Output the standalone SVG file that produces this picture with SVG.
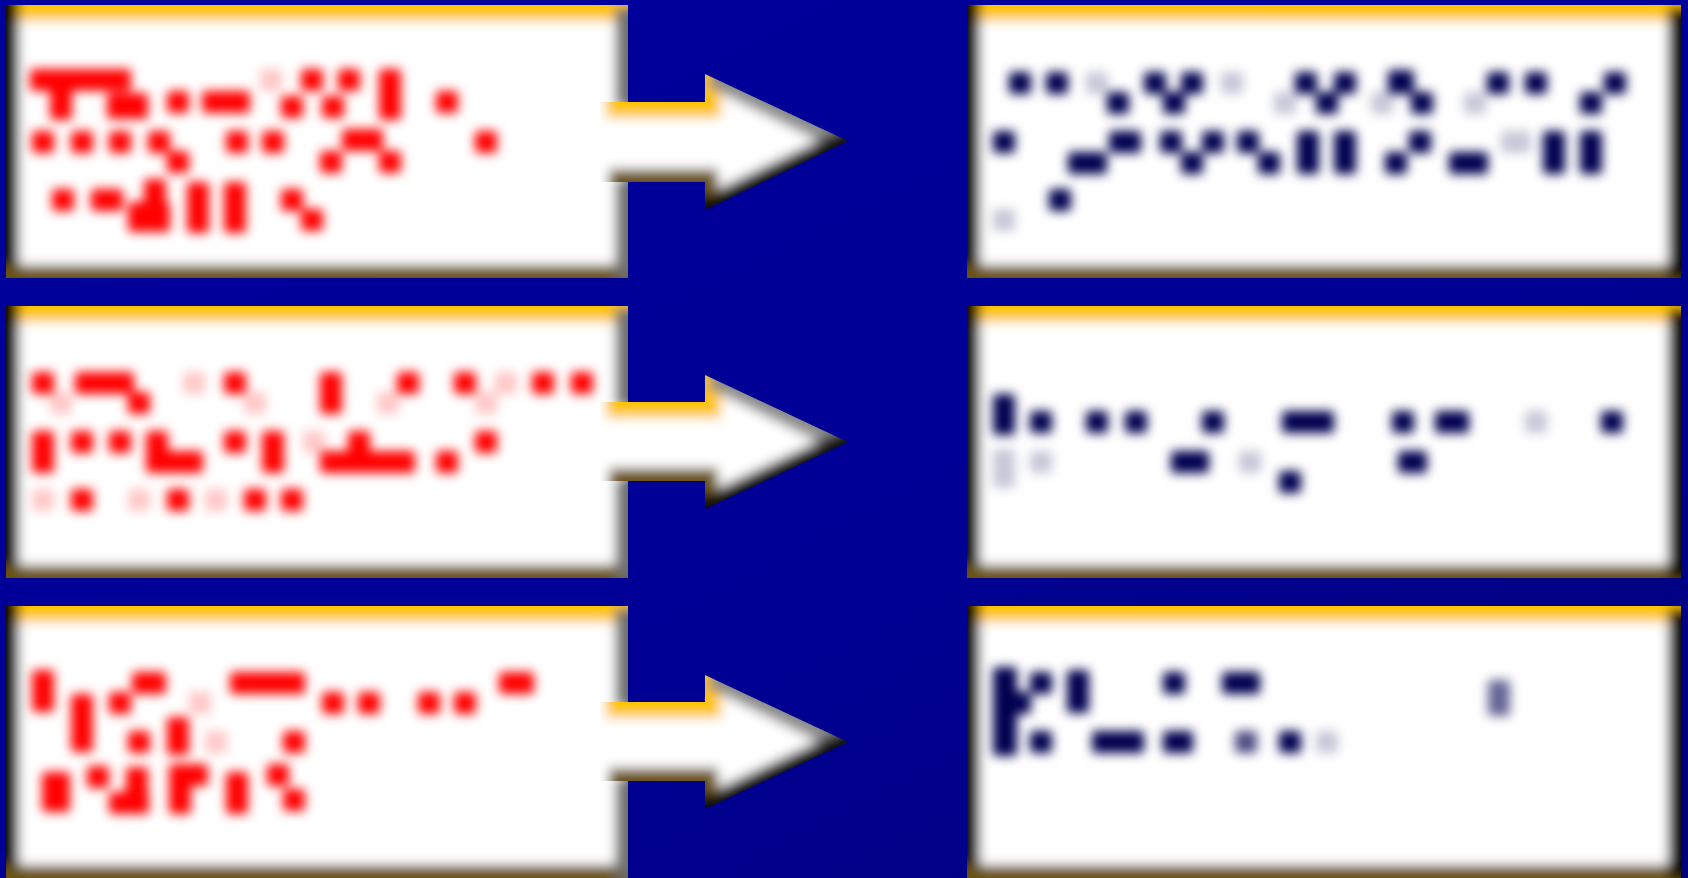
<svg xmlns="http://www.w3.org/2000/svg" width="1688" height="878" viewBox="0 0 1688 878">
<defs>
<linearGradient id="bg" x1="0" y1="0" x2="1" y2="1">
<stop offset="0" stop-color="#00009c"/><stop offset="0.55" stop-color="#000096"/><stop offset="1" stop-color="#00007a"/>
</linearGradient>
<filter id="edge" x="-5%" y="-10%" width="110%" height="120%"><feGaussianBlur stdDeviation="6"/></filter>
<filter id="ink" x="-10%" y="-20%" width="120%" height="140%"><feGaussianBlur stdDeviation="5.5"/></filter>
<clipPath id="cL1" clipPathUnits="userSpaceOnUse"><rect x="6" y="5" width="622" height="273"/></clipPath>
<clipPath id="cL2" clipPathUnits="userSpaceOnUse"><rect x="6" y="306" width="622" height="272"/></clipPath>
<clipPath id="cL3" clipPathUnits="userSpaceOnUse"><rect x="6" y="606" width="622" height="272"/></clipPath>
<clipPath id="cR1" clipPathUnits="userSpaceOnUse"><rect x="967" y="5" width="714" height="273"/></clipPath>
<clipPath id="cR2" clipPathUnits="userSpaceOnUse"><rect x="967" y="306" width="714" height="272"/></clipPath>
<clipPath id="cR3" clipPathUnits="userSpaceOnUse"><rect x="967" y="606" width="714" height="272"/></clipPath>
<clipPath id="cA1" clipPathUnits="userSpaceOnUse"><path d="M600,102 H705 V74 L848,141 L705,210 V182 H600 Z"/></clipPath>
<clipPath id="cA2" clipPathUnits="userSpaceOnUse"><path d="M600,402 H705 V375 L848,442 L705,509 V481 H600 Z"/></clipPath>
<clipPath id="cA3" clipPathUnits="userSpaceOnUse"><path d="M600,702 H705 V675 L848,742 L705,809 V781 H600 Z"/></clipPath>
<style>
.w{fill:#fff}
.e{fill:none;stroke-width:26;stroke-linecap:square}
.eg{stroke:#ffc400;stroke-width:32}
.ed{stroke:#6a5210}
.ek{stroke:#000}
.ea{stroke:#707070}
.ex{stroke:#8a8a8a}
.ey{stroke:#111}
.r rect{fill:#ff0000;stroke:#ff0000;stroke-width:6;stroke-linejoin:round}
.n rect{fill:#000050;stroke:#000050;stroke-width:6;stroke-linejoin:round}
.f{opacity:.22}
</style>
</defs>
<rect width="1688" height="878" fill="url(#bg)"/>

<g id="node-left-1">
<g clip-path="url(#cL1)"><g filter="url(#edge)">
<rect class="w" x="6" y="5" width="622" height="273"/>
<line class="e eg" x1="6" y1="5" x2="628" y2="5"/>
<line class="e ek" x1="6" y1="5" x2="6" y2="278"/>
<line class="e ed" x1="6" y1="278" x2="628" y2="278"/>
<line class="e ea" x1="628" y1="20" x2="628" y2="94"/>
<line class="e ea" x1="628" y1="192" x2="628" y2="266"/>
</g></g>
<g class="r" filter="url(#ink)">
<rect x="33" y="72" width="95" height="16"/><rect x="53" y="72" width="16" height="45"/><rect x="110" y="96" width="35" height="20"/>
<rect x="170" y="94" width="16" height="16"/><rect x="205" y="94" width="42" height="16"/>
<rect class="f" x="263" y="72" width="16" height="16"/><rect x="284" y="99" width="16" height="16"/><rect x="304" y="72" width="16" height="16"/><rect x="325" y="99" width="16" height="16"/><rect x="341" y="72" width="16" height="16"/><rect x="382" y="72" width="16" height="45"/><rect x="439" y="94" width="16" height="16"/>
<rect x="35" y="134" width="16" height="16"/><rect x="74" y="134" width="16" height="16"/><rect x="112" y="134" width="16" height="16"/><rect x="151" y="134" width="16" height="16"/><rect x="170" y="154" width="16" height="16"/>
<rect x="229" y="134" width="16" height="16"/><rect x="265" y="134" width="16" height="16"/>
<rect x="323" y="154" width="16" height="16"/><rect x="345" y="132" width="35" height="16"/><rect x="382" y="154" width="16" height="16"/><rect x="478" y="134" width="16" height="16"/>
<rect x="55" y="192" width="16" height="16"/><rect x="94" y="192" width="26" height="16"/><rect x="131" y="205" width="36" height="24"/><rect x="147" y="182" width="16" height="24"/>
<rect x="190" y="185" width="16" height="45"/><rect x="227" y="185" width="16" height="45"/><rect x="284" y="192" width="16" height="16"/><rect x="304" y="212" width="16" height="16"/>
</g>
</g>

<g id="node-left-2">
<g clip-path="url(#cL2)"><g filter="url(#edge)">
<rect class="w" x="6" y="306" width="622" height="272"/>
<line class="e eg" x1="6" y1="306" x2="628" y2="306"/>
<line class="e ek" x1="6" y1="306" x2="6" y2="578"/>
<line class="e ed" x1="6" y1="578" x2="628" y2="578"/>
<line class="e ea" x1="628" y1="321" x2="628" y2="394"/>
<line class="e ea" x1="628" y1="491" x2="628" y2="566"/>
</g></g>
<g class="r" filter="url(#ink)">
<rect x="35" y="375" width="16" height="16"/><rect class="f" x="53" y="395" width="16" height="16"/><rect x="78" y="375" width="53" height="16"/><rect x="131" y="395" width="16" height="16"/>
<rect class="f" x="186" y="375" width="16" height="16"/><rect x="227" y="375" width="16" height="16"/><rect class="f" x="247" y="395" width="16" height="16"/>
<rect x="323" y="375" width="16" height="36"/><rect class="f" x="380" y="395" width="16" height="16"/><rect x="400" y="375" width="16" height="16"/>
<rect x="457" y="375" width="16" height="16"/><rect class="f" x="478" y="395" width="16" height="16"/><rect class="f" x="498" y="375" width="16" height="16"/><rect x="535" y="375" width="16" height="16"/><rect x="574" y="375" width="16" height="16"/>
<rect x="35" y="434" width="16" height="36"/><rect x="74" y="434" width="16" height="16"/><rect x="112" y="434" width="16" height="16"/>
<rect x="149" y="434" width="16" height="36"/><rect x="149" y="454" width="51" height="16"/><rect x="227" y="434" width="16" height="16"/><rect x="265" y="434" width="16" height="36"/>
<rect class="f" x="306" y="434" width="16" height="16"/><rect x="323" y="454" width="89" height="16"/><rect x="351" y="434" width="16" height="36"/><rect x="439" y="454" width="16" height="16"/><rect x="478" y="434" width="16" height="16"/>
<rect class="f" x="35" y="492" width="16" height="16"/><rect x="74" y="492" width="16" height="16"/><rect class="f" x="131" y="492" width="16" height="16"/><rect x="170" y="492" width="16" height="16"/><rect class="f" x="208" y="492" width="16" height="16"/><rect x="247" y="492" width="16" height="16"/><rect x="284" y="492" width="16" height="16"/>
</g>
</g>

<g id="node-left-3">
<g clip-path="url(#cL3)"><g filter="url(#edge)">
<rect class="w" x="6" y="606" width="622" height="272"/>
<line class="e eg" x1="6" y1="606" x2="628" y2="606"/>
<line class="e ek" x1="6" y1="606" x2="6" y2="878"/>
<line class="e ed" x1="6" y1="878" x2="628" y2="878"/>
<line class="e ea" x1="628" y1="621" x2="628" y2="694"/>
<line class="e ea" x1="628" y1="791" x2="628" y2="866"/>
</g></g>
<g class="r" filter="url(#ink)">
<rect x="35" y="673" width="16" height="36"/><rect x="74" y="697" width="16" height="52"/><rect x="112" y="695" width="16" height="16"/><rect x="135" y="675" width="28" height="16"/><rect class="f" x="192" y="695" width="16" height="16"/>
<rect x="233" y="675" width="69" height="16"/><rect x="325" y="695" width="16" height="16"/><rect x="361" y="695" width="16" height="16"/><rect x="421" y="695" width="16" height="16"/><rect x="457" y="695" width="16" height="16"/><rect x="502" y="675" width="29" height="16"/>
<rect x="131" y="734" width="16" height="16"/><rect x="170" y="720" width="16" height="32"/><rect class="f" x="208" y="734" width="16" height="16"/><rect x="286" y="734" width="16" height="16"/>
<rect x="45" y="775" width="22" height="34"/><rect x="90" y="769" width="16" height="16"/><rect x="129" y="770" width="16" height="40"/><rect x="112" y="795" width="34" height="16"/>
<rect x="172" y="775" width="16" height="36"/><rect x="172" y="767" width="33" height="16"/><rect x="229" y="775" width="16" height="36"/><rect x="270" y="767" width="16" height="16"/><rect x="286" y="792" width="16" height="16"/>
</g>
</g>

<g id="node-right-1">
<g clip-path="url(#cR1)"><g filter="url(#edge)">
<rect class="w" x="967" y="5" width="714" height="273"/>
<line class="e eg" x1="967" y1="5" x2="1681" y2="5"/>
<line class="e ek" x1="967" y1="5" x2="967" y2="278"/>
<line class="e ed" x1="967" y1="278" x2="1681" y2="278"/>
<line class="e ek" x1="1681" y1="20" x2="1681" y2="266"/>
</g></g>
<g class="n" filter="url(#ink)">
<rect x="1012" y="75" width="16" height="16"/><rect x="1049" y="75" width="16" height="16"/><rect class="f" x="1089" y="75" width="16" height="16"/><rect x="1110" y="95" width="16" height="16"/>
<rect x="1147" y="75" width="16" height="16"/><rect x="1166" y="95" width="16" height="16"/><rect x="1184" y="75" width="16" height="16"/><rect class="f" x="1224" y="75" width="16" height="16"/>
<rect class="f" x="1277" y="95" width="16" height="16"/><rect x="1298" y="75" width="16" height="16"/><rect x="1319" y="95" width="16" height="16"/><rect x="1337" y="75" width="16" height="16"/>
<rect x="1391" y="73" width="20" height="18"/><rect class="f" x="1374" y="95" width="16" height="16"/><rect x="1414" y="95" width="16" height="16"/>
<rect class="f" x="1467" y="95" width="16" height="16"/><rect x="1490" y="75" width="16" height="16"/><rect x="1528" y="75" width="16" height="16"/><rect x="1583" y="95" width="16" height="16"/><rect x="1607" y="75" width="16" height="16"/>
<rect x="996" y="134" width="16" height="16"/><rect x="1071" y="155" width="33" height="16"/><rect x="1112" y="134" width="26" height="16"/>
<rect x="1163" y="134" width="16" height="16"/><rect x="1184" y="155" width="16" height="16"/><rect x="1205" y="134" width="16" height="16"/>
<rect x="1240" y="134" width="16" height="16"/><rect x="1261" y="155" width="16" height="16"/><rect x="1300" y="134" width="16" height="37"/><rect x="1337" y="134" width="16" height="37"/>
<rect x="1388" y="155" width="16" height="16"/><rect x="1412" y="134" width="16" height="16"/><rect x="1452" y="155" width="33" height="16"/><rect class="f" x="1504" y="134" width="24" height="16"/>
<rect x="1546" y="134" width="16" height="37"/><rect x="1583" y="134" width="16" height="37"/>
<rect class="f" x="996" y="212" width="16" height="16"/><rect x="1052" y="192" width="16" height="16"/>
</g>
</g>

<g id="node-right-2">
<g clip-path="url(#cR2)"><g filter="url(#edge)">
<rect class="w" x="967" y="306" width="714" height="272"/>
<line class="e eg" x1="967" y1="306" x2="1681" y2="306"/>
<line class="e ek" x1="967" y1="306" x2="967" y2="578"/>
<line class="e ed" x1="967" y1="578" x2="1681" y2="578"/>
<line class="e ek" x1="1681" y1="321" x2="1681" y2="566"/>
</g></g>
<g class="n" filter="url(#ink)">
<rect x="996" y="397" width="16" height="35"/><rect x="1033" y="414" width="16" height="16"/><rect x="1089" y="414" width="16" height="16"/><rect x="1128" y="414" width="16" height="16"/><rect x="1205" y="414" width="16" height="16"/>
<rect x="1285" y="414" width="46" height="16"/><rect x="1395" y="414" width="16" height="16"/><rect x="1438" y="414" width="28" height="16"/><rect class="f" x="1528" y="414" width="16" height="16"/><rect x="1604" y="414" width="16" height="16"/>
<rect class="f" x="996" y="452" width="16" height="33"/><rect class="f" x="1033" y="454" width="16" height="16"/><rect x="1174" y="454" width="32" height="16"/><rect class="f" x="1242" y="454" width="16" height="16"/><rect x="1282" y="474" width="16" height="16"/><rect x="1401" y="454" width="23" height="16"/>
</g>
</g>

<g id="node-right-3">
<g clip-path="url(#cR3)"><g filter="url(#edge)">
<rect class="w" x="967" y="606" width="714" height="272"/>
<line class="e eg" x1="967" y1="606" x2="1681" y2="606"/>
<line class="e ek" x1="967" y1="606" x2="967" y2="878"/>
<line class="e ed" x1="967" y1="878" x2="1681" y2="878"/>
<line class="e ek" x1="1681" y1="621" x2="1681" y2="866"/>
</g></g>
<g class="n" filter="url(#ink)">
<rect x="996" y="670" width="18" height="83"/><rect x="1012" y="695" width="16" height="16"/><rect x="1033" y="675" width="16" height="16"/><rect x="1070" y="673" width="16" height="37"/>
<rect x="1166" y="675" width="16" height="16"/><rect x="1225" y="675" width="32" height="16"/><rect x="1491" y="683" width="16" height="30" opacity=".6"/>
<rect x="1033" y="734" width="16" height="16"/><rect x="1095" y="734" width="46" height="16"/><rect x="1166" y="734" width="24" height="16"/><rect x="1238" y="734" width="16" height="16" opacity=".7"/><rect x="1282" y="734" width="16" height="16"/><rect class="f" x="1319" y="734" width="16" height="16"/>
</g>
</g>

<g id="connectors">
<g id="arrow-1" clip-path="url(#cA1)"><g filter="url(#edge)">
<path class="w" d="M590,102 H705 V74 L848,141 L705,210 V182 H590 Z"/>
<line class="e eg" x1="622" y1="102" x2="705" y2="102"/>
<line class="e eg" x1="705" y1="74" x2="705" y2="102"/>
<line class="e ex" x1="724" y1="80" x2="848" y2="141"/>
<line class="e ey" x1="848" y1="141" x2="705" y2="210"/>
<line class="e ey" x1="705" y1="182" x2="705" y2="210"/>
<line class="e ed" x1="622" y1="182" x2="705" y2="182"/>
</g></g>
<g id="arrow-2" clip-path="url(#cA2)"><g filter="url(#edge)">
<path class="w" d="M590,402 H705 V375 L848,442 L705,509 V481 H590 Z"/>
<line class="e eg" x1="622" y1="402" x2="705" y2="402"/>
<line class="e eg" x1="705" y1="375" x2="705" y2="402"/>
<line class="e ex" x1="724" y1="381" x2="848" y2="442"/>
<line class="e ey" x1="848" y1="442" x2="705" y2="509"/>
<line class="e ey" x1="705" y1="481" x2="705" y2="509"/>
<line class="e ed" x1="622" y1="481" x2="705" y2="481"/>
</g></g>
<g id="arrow-3" clip-path="url(#cA3)"><g filter="url(#edge)">
<path class="w" d="M590,702 H705 V675 L848,742 L705,809 V781 H590 Z"/>
<line class="e eg" x1="622" y1="702" x2="705" y2="702"/>
<line class="e eg" x1="705" y1="675" x2="705" y2="702"/>
<line class="e ex" x1="724" y1="681" x2="848" y2="742"/>
<line class="e ey" x1="848" y1="742" x2="705" y2="809"/>
<line class="e ey" x1="705" y1="781" x2="705" y2="809"/>
<line class="e ed" x1="622" y1="781" x2="705" y2="781"/>
</g></g>
</g>
</svg>
